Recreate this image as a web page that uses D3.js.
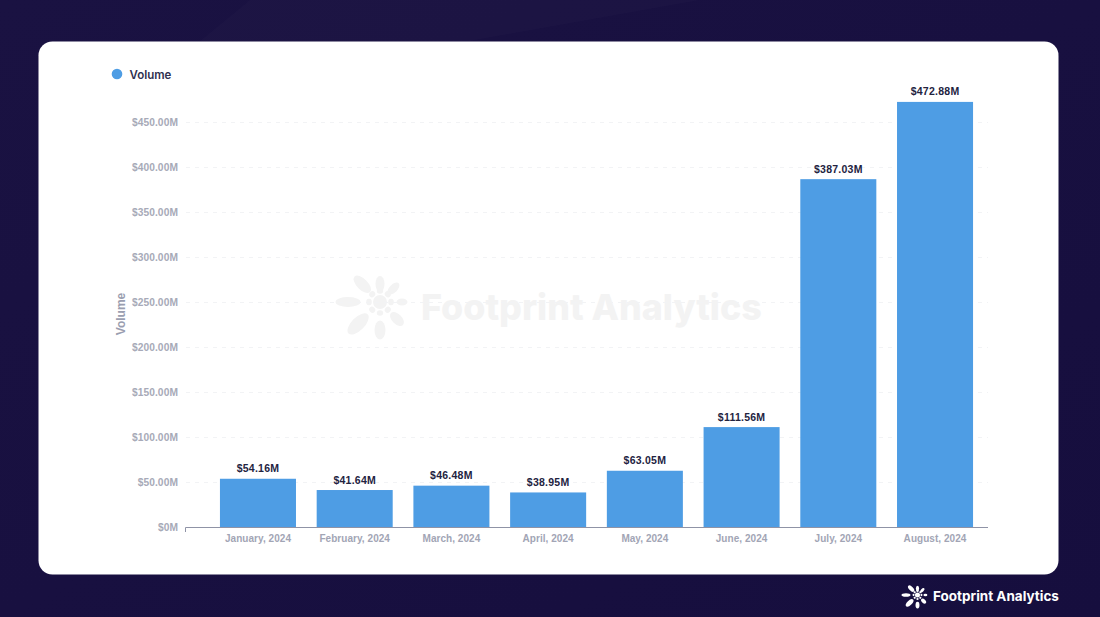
<!DOCTYPE html>
<html><head><meta charset="utf-8">
<script src="https://cdnjs.cloudflare.com/ajax/libs/d3/7.8.5/d3.min.js"></script>
<style>html,body{margin:0;padding:0;background:#17103f;overflow:hidden}svg{display:block}</style>
</head><body><svg id="c" width="1100" height="617"></svg>
<script>
const categories=["January, 2024","February, 2024","March, 2024","April, 2024","May, 2024","June, 2024","July, 2024","August, 2024"];
const volumes=[54.16,41.64,46.48,38.95,63.05,111.56,387.03,472.88];
const yTicks=[0,50,100,150,200,250,300,350,400,450];
const seriesName="Volume";
const brand="Footprint Analytics";
const petalAngles=[0,-45,-90,-135,180,135,90,45];
const petalDist=[18,25,32,31,28,24,22,19];
const petalLen=[8,11,12.5,13.5,9.5,8.5,5.5,7.5];
const petalWid=[4.5,5.5,5,6.5,5.5,5,3.5,4];
const svg=d3.select("#c");
const defs=svg.append("defs");
const g=defs.append("linearGradient").attr("id","bg").attr("x1",0).attr("y1",0).attr("x2",1).attr("y2",1);
g.append("stop").attr("offset",0).attr("stop-color","#1a1242");
g.append("stop").attr("offset",1).attr("stop-color","#160e3e");
svg.append("rect").attr("width",1100).attr("height",617).attr("fill","url(#bg)");
svg.append("path").attr("d","M250 0L700 0L470 41L200 41Z").attr("fill","#ffffff").attr("opacity",0.014);
svg.append("rect").attr("x",38.5).attr("y",41.5).attr("width",1020).attr("height",533).attr("rx",14).attr("fill","#fff");

const x=d3.scaleBand().domain(categories).range([209.6,983.4]).paddingInner(0.214).paddingOuter(0.107);
const y=d3.scaleLinear().domain([0,450]).range([527.5,122.5]);
const font="'Liberation Sans',Arial,sans-serif";

function logo(sel,cx,cy,s,fill){
  const l=sel.append("g").attr("transform",`translate(${cx},${cy}) scale(${s})`).attr("fill",fill);
  l.append("circle").attr("r",7);
  petalAngles.forEach((a,i)=>{
    l.append("ellipse").attr("cy",-petalDist[i]).attr("rx",petalWid[i]).attr("ry",petalLen[i]).attr("transform",`rotate(${a})`);
    l.append("ellipse").attr("cy",-11).attr("rx",3.2).attr("ry",2.8).attr("transform",`rotate(${a})`);
  });
}
logo(svg,380,302,1,"#f3f3f3");
svg.append("text").attr("x",421).attr("y",320).attr("font-family","Inter,sans-serif").attr("font-weight",800).attr("font-size",35.8).attr("fill","#f3f3f3").text(brand);

svg.append("g").selectAll("line").data(yTicks.slice(1)).join("line")
  .attr("x1",186).attr("x2",988).attr("y1",d=>y(d)).attr("y2",d=>y(d))
  .attr("stroke","#f2f3f5").attr("stroke-width",1).attr("stroke-dasharray","4 5");

const yAxis=d3.axisLeft(y).tickValues(yTicks).tickSize(0).tickPadding(0)
  .tickFormat(d=>d===0?"$0M":`$${d.toFixed(2)}M`);
const ya=svg.append("g").attr("transform","translate(178,0)").call(yAxis);
ya.select(".domain").remove();
ya.selectAll("text").attr("font-family",font).attr("font-weight",700).attr("font-size",10.2).attr("fill","#a7aab8").attr("letter-spacing",0.1).attr("dy","0.34em");

svg.append("text").attr("transform","translate(125,314) rotate(-90)").attr("text-anchor","middle")
  .attr("font-family",font).attr("font-weight",700).attr("font-size",12).attr("fill","#9a9eb0").text(seriesName);

svg.append("g").selectAll("rect").data(volumes).join("rect")
  .attr("x",(d,i)=>x(categories[i])).attr("width",x.bandwidth())
  .attr("y",d=>y(d)).attr("height",d=>y(0)-y(d)).attr("fill","#4e9de4");
svg.append("g").selectAll("text").data(volumes).join("text")
  .attr("x",(d,i)=>x(categories[i])+x.bandwidth()/2).attr("y",d=>y(d)-6.5).attr("text-anchor","middle")
  .attr("font-family",font).attr("font-weight",700).attr("font-size",10.5).attr("letter-spacing",0.25).attr("fill","#23233f")
  .text(d=>`$${d.toFixed(2)}M`);

const xa=svg.append("g").attr("transform","translate(0,527)").call(d3.axisBottom(x).tickSize(0).tickPadding(8));
xa.select(".domain").remove();
xa.selectAll("text").attr("font-family",font).attr("font-weight",700).attr("font-size",10).attr("fill","#a2a5b5").attr("letter-spacing",0.05);
svg.append("path").attr("d","M185.5 532V527.5H988").attr("fill","none").attr("stroke","#8f93a6").attr("stroke-width",1);

svg.append("circle").attr("cx",117).attr("cy",74).attr("r",5.3).attr("fill","#4e9de4");
svg.append("text").attr("x",129.5).attr("y",79).attr("font-family","Inter,sans-serif").attr("font-weight",600).attr("font-size",11.5).attr("fill","#2f3050").text(seriesName);

logo(svg,917.5,595,0.36,"#fff");
svg.append("text").attr("x",933).attr("y",601).attr("font-family","Inter,sans-serif").attr("font-weight",700).attr("font-size",13.5).attr("fill","#fff").text(brand);
</script></body></html>
